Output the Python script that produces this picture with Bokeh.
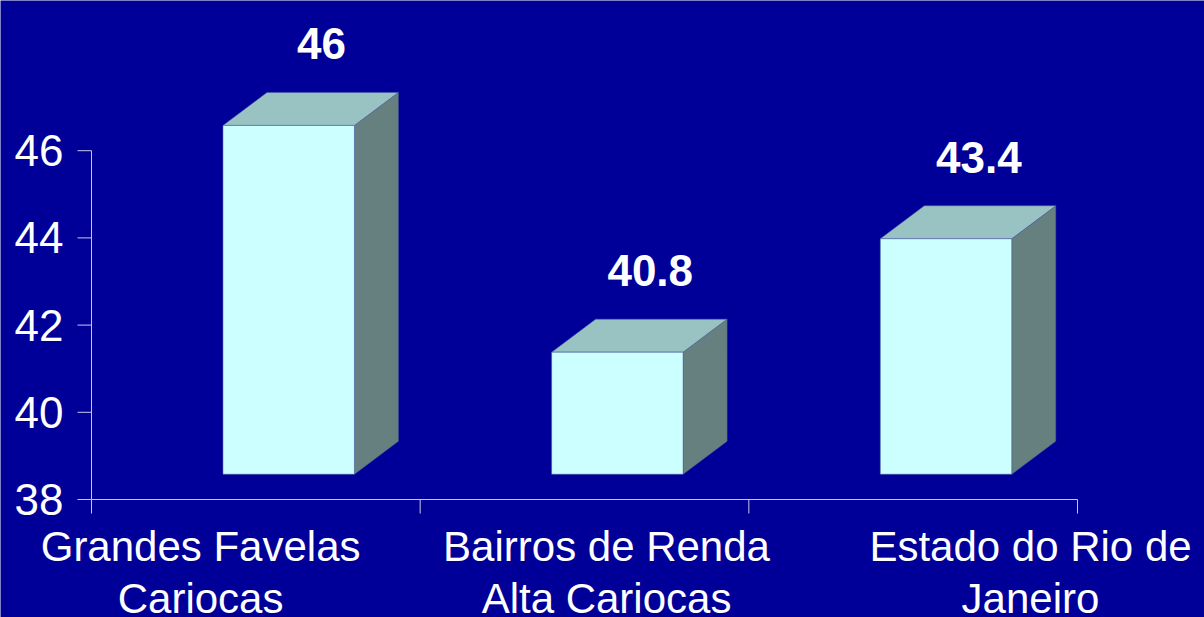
from bokeh.plotting import figure
from bokeh.models import Range1d, ColumnDataSource
from bokeh.core.properties import value
from bokeh.embed import file_html
from bokeh.resources import INLINE

# ---------------- data ----------------
categories = ["Grandes Favelas\nCariocas", "Bairros de Renda\nAlta Cariocas", "Estado do Rio de\nJaneiro"]
values = [46, 40.8, 43.4]
value_labels = ["46", "40.8", "43.4"]
y_ticks = [38, 40, 42, 44, 46]
y_tick_labels = ["38", "40", "42", "44", "46"]
y_base = 38

# ---------------- style / layout ----------------
BG = "#000099"
FRONT = "#CCFFFF"
TOP = "#99C2C2"
SIDE = "#668080"
EDGE = "#4a5a99"
AXIS = "#C8C8E6"
FONT = "Liberation Sans"

W, H = 1204, 617
LEFT = 91                 # pixel column of the value axis
PLOT_W = 986              # width of the 3 category slots (px)
BASE_PX = 499             # pixel row of y_base from the top
PX_PER_UNIT = 43.6        # vertical scale
XPX = PLOT_W / 3.0        # px per category

x_start = -LEFT / XPX
x_end = 3 + (W - LEFT - PLOT_W) / XPX
y_start = y_base - (H - BASE_PX) / PX_PER_UNIT
y_end = y_base + BASE_PX / PX_PER_UNIT

DX = 44 / XPX             # 3D depth offsets
DY = 33 / PX_PER_UNIT
LIFT = 0.58               # front face raised above the floor
BAR_L, BAR_R = 0.40, 0.80
TICK_V = 14 / PX_PER_UNIT
TICK_H = 14 / XPX
YLAB_GAP = 28 / XPX
LABEL_GAP = 2.45
LABEL_DX = 0.70
CAT_SHIFT = [-0.168, 0.067, 0.357]
CAT_TOP = 23 / PX_PER_UNIT

p = figure(width=W, height=H, output_backend="svg", toolbar_location=None,
           x_range=Range1d(x_start, x_end), y_range=Range1d(y_start, y_end),
           x_axis_type=None, y_axis_type=None,
           min_border_left=0, min_border_right=0, min_border_top=0, min_border_bottom=0,
           background_fill_color=BG, border_fill_color=BG, outline_line_color=None)
p.grid.visible = False

# value axis: line, ticks, labels
p.segment(x0=[0], y0=[y_ticks[0]], x1=[0], y1=[y_ticks[-1]], line_color=AXIS, line_width=1)
p.segment(x0=[-TICK_H] * len(y_ticks), y0=y_ticks, x1=[0] * len(y_ticks), y1=y_ticks,
          line_color=AXIS, line_width=1)
p.text(x=[-YLAB_GAP] * len(y_ticks), y=y_ticks, text=y_tick_labels, text_font=value(FONT),
       text_font_size="44px", text_color="white", text_align="right", text_baseline="middle")

# category axis line and boundary ticks
p.segment(x0=[0], y0=[y_base], x1=[len(categories)], y1=[y_base], line_color=AXIS, line_width=1)
bx = list(range(len(categories) + 1))
p.segment(x0=bx, y0=[y_base] * len(bx), x1=bx, y1=[y_base - TICK_V] * len(bx),
          line_color=AXIS, line_width=1)

# 3D bars
front_xs, front_ys, top_xs, top_ys, side_xs, side_ys = [], [], [], [], [], []
for i, v in enumerate(values):
    x0, x1 = i + BAR_L, i + BAR_R
    b, t = y_base + LIFT, v + LIFT
    front_xs.append([x0, x1, x1, x0]); front_ys.append([b, b, t, t])
    top_xs.append([x0, x1, x1 + DX, x0 + DX]); top_ys.append([t, t, t + DY, t + DY])
    side_xs.append([x1, x1 + DX, x1 + DX, x1]); side_ys.append([b, b + DY, t + DY, t])

p.patches(side_xs, side_ys, fill_color=SIDE, line_color=EDGE, line_width=0.5)
p.patches(top_xs, top_ys, fill_color=TOP, line_color=EDGE, line_width=0.5)
p.patches(front_xs, front_ys, fill_color=FRONT, line_color=EDGE, line_width=0.5)

# value labels
lab = ColumnDataSource(dict(x=[i + LABEL_DX for i in range(len(values))],
                            y=[v + LABEL_GAP for v in values], text=value_labels))
p.text(x="x", y="y", text="text", source=lab, text_font=value(FONT), text_font_style="bold",
       text_font_size="44px", text_color="white", text_align="center", text_baseline="middle")

# category labels
cat = ColumnDataSource(dict(x=[i + 0.5 + s for i, s in enumerate(CAT_SHIFT)],
                            y=[y_base - CAT_TOP] * len(categories), text=categories))
p.text(x="x", y="y", text="text", source=cat, text_font=value(FONT), text_font_size="42px",
       text_color="white", text_align="center", text_baseline="top", text_line_height=1.12)

open("out.html", "w").write(file_html(p, INLINE))
